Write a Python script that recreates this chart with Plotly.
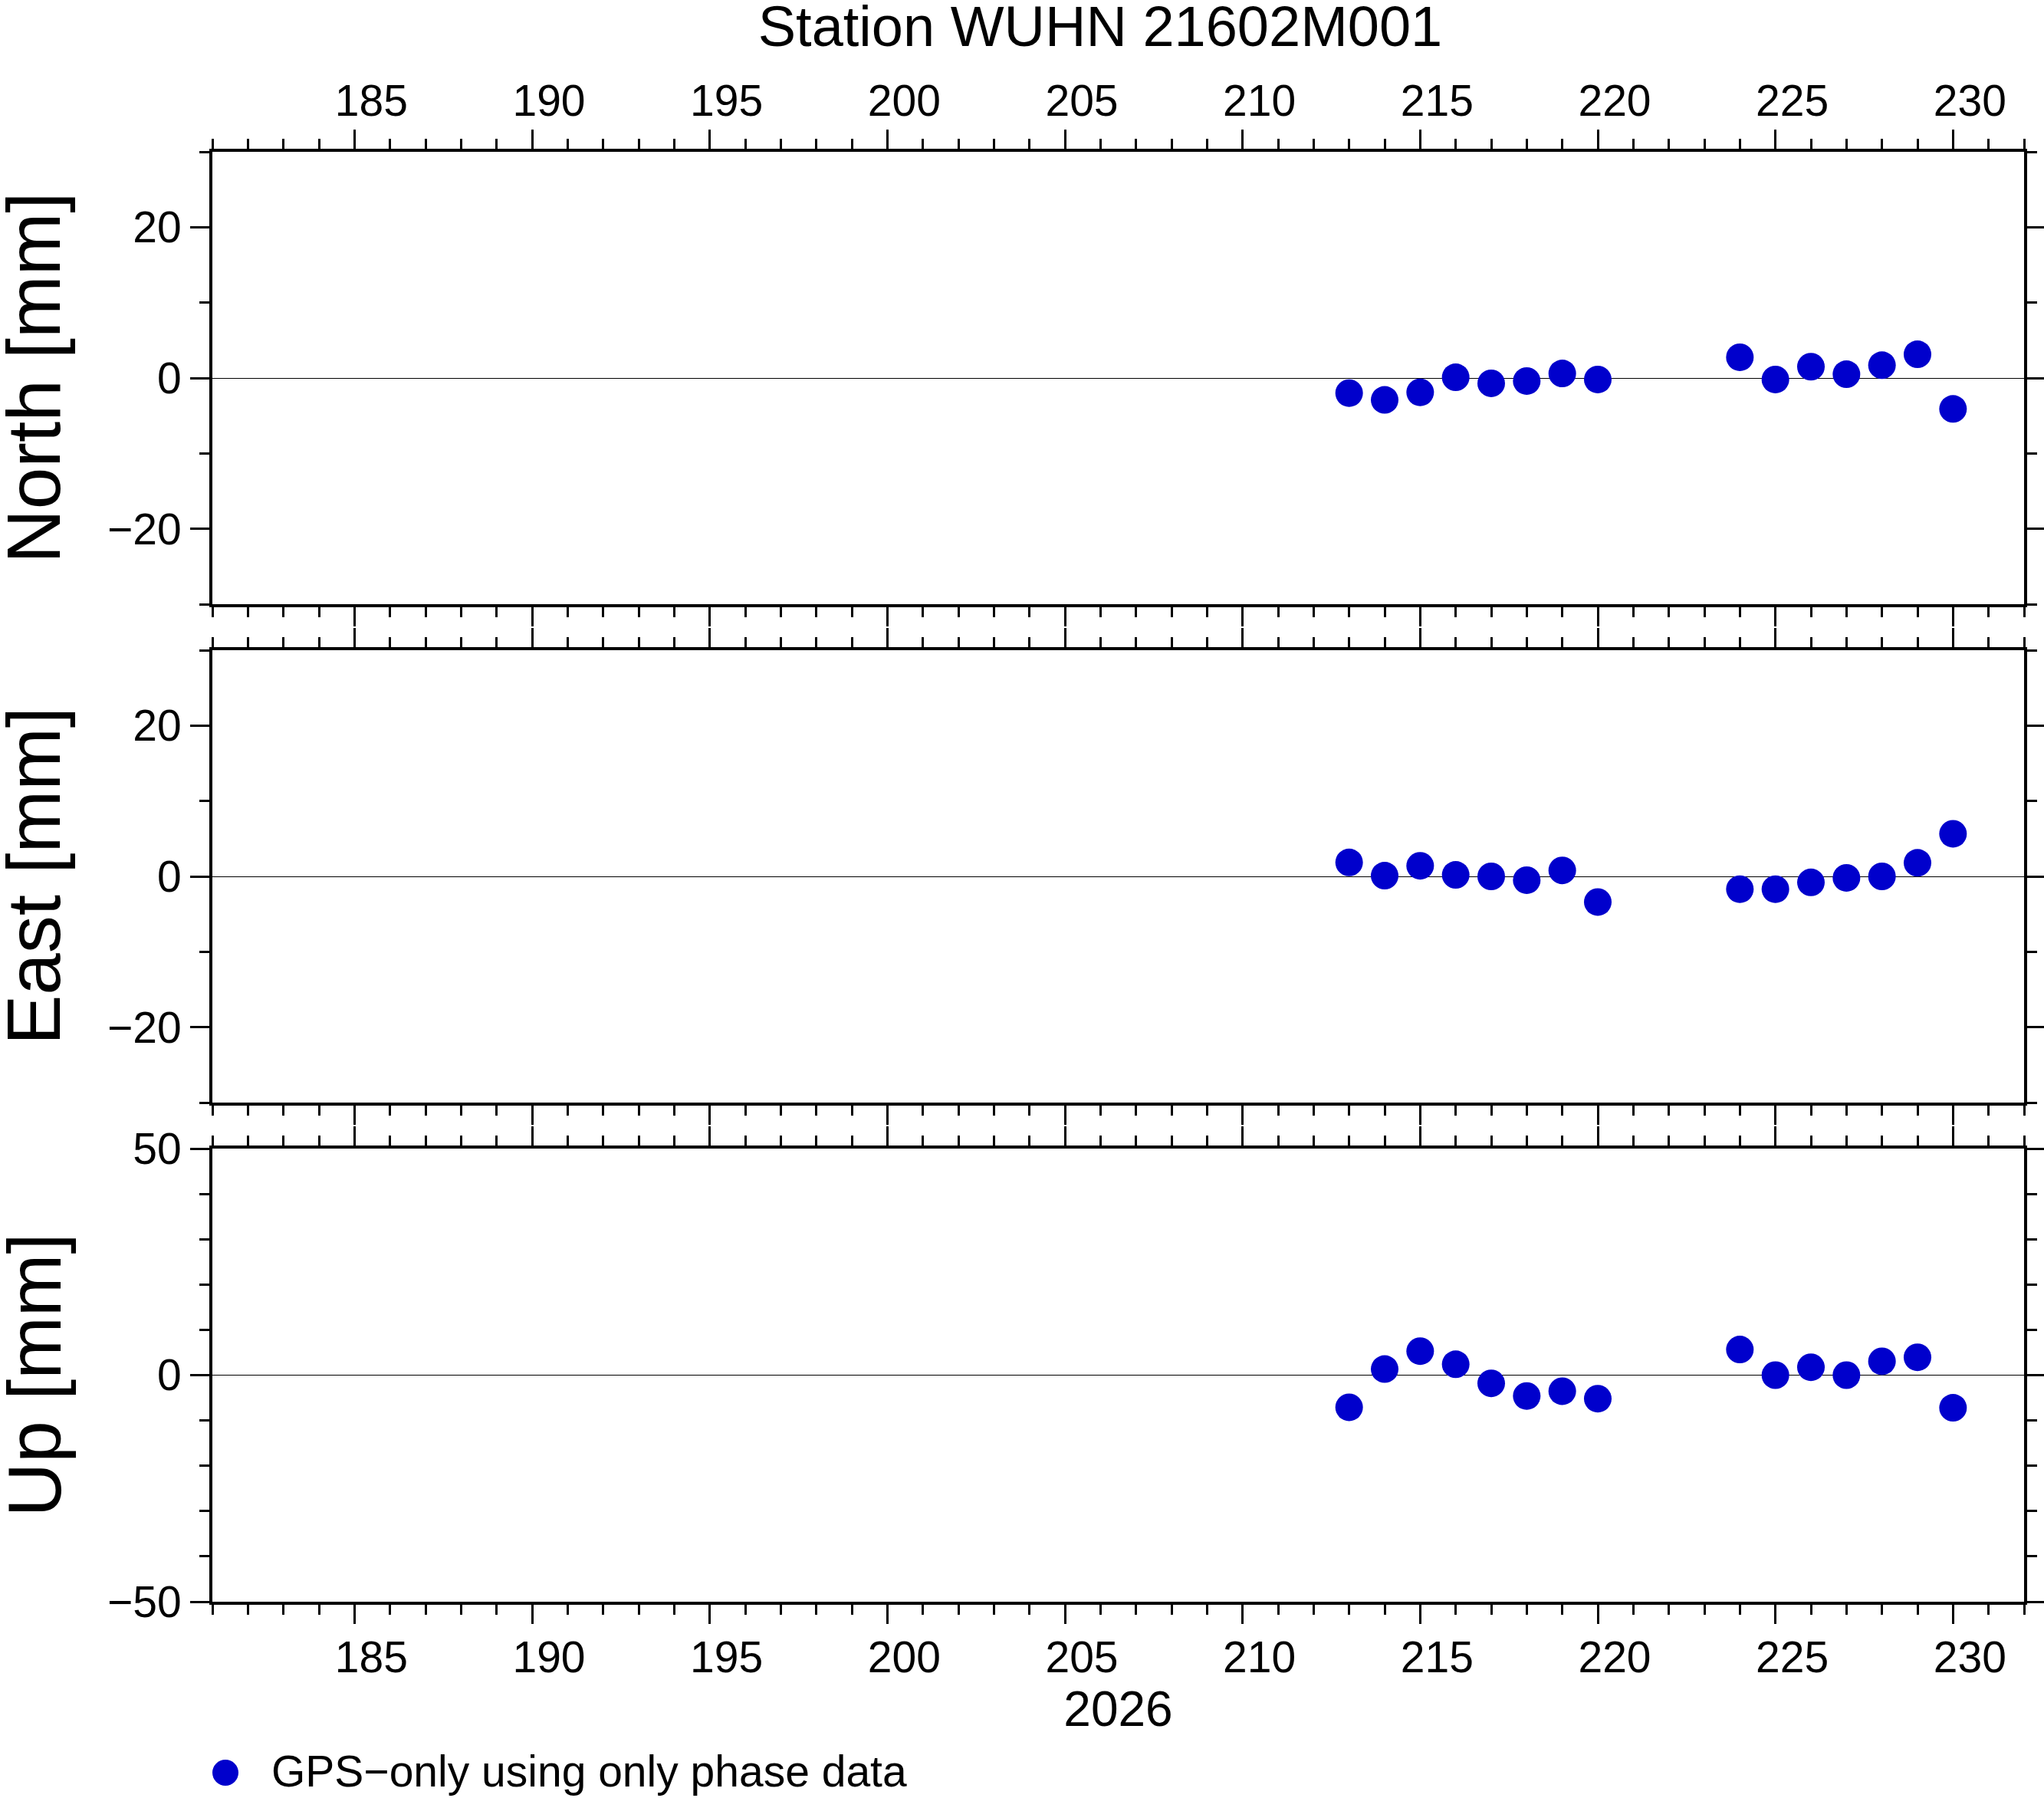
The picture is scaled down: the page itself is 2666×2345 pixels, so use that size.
import plotly.graph_objects as go

# ---- data ----
doy = [213, 214, 215, 216, 217, 218, 219, 220, 224, 225, 226, 227, 228, 229, 230]
north = [-2.0, -2.9, -1.9, 0.1, -0.7, -0.4, 0.6, -0.2, 2.75, -0.2, 1.5, 0.5, 1.7, 3.15, -4.1]
east = [1.85, 0.1, 1.4, 0.2, 0.0, -0.5, 0.8, -3.4, -1.7, -1.7, -0.8, -0.2, 0.0, 1.8, 5.65]
up = [-7.1, 1.35, 5.3, 2.4, -1.8, -4.6, -3.55, -5.2, 5.65, 0.0, 1.75, 0.0, 3.05, 3.95, -7.2]

panel_titles = ["North [mm]", "East [mm]", "Up [mm]"]
y_ranges = [[-30, 30], [-30, 30], [-50, 50]]
y_dticks = [20, 20, 50]
x_range = [181, 232]
year_label = "2026"
title_text = "Station WUHN 21602M001"
legend_text = "GPS\u2212only using only phase data"

COLOR = "rgb(0,0,204)"
FONT = "Liberation Sans, Arial, Helvetica, sans-serif"
W, H = 2666, 2345
ML, MR, MT, MB = 277, 26, 198, 256
PW, PH = W - ML - MR, H - MT - MB

fig = go.Figure()
series = [north, east, up]
for i, vals in enumerate(series):
    fig.add_trace(go.Scatter(
        x=doy, y=vals, mode="markers",
        marker=dict(size=36, color=COLOR, line=dict(width=0)),
        xaxis="x" if i == 0 else f"x{i+1}",
        yaxis="y" if i == 0 else f"y{i+1}",
        showlegend=False, name=legend_text,
    ))

# panel pixel extents (from top of plot area)
panels = [(0, 590), (650, 1240), (1300, 1891)]
domains = [[1 - b / PH, 1 - t / PH] for t, b in panels]

tickfont = dict(family=FONT, size=57, color="black")
for i in range(3):
    xa = dict(
        range=x_range, domain=[0, 1], anchor="y" if i == 0 else f"y{i+1}",
        tickmode="linear", tick0=185, dtick=5,
        ticks="outside", ticklen=25, tickwidth=3, tickcolor="black",
        minor=dict(ticks="outside", ticklen=13, tickwidth=3, dtick=1, tick0=181,
                   tickcolor="black", showgrid=False),
        showline=True, linewidth=4, linecolor="black", mirror="ticks",
        showgrid=False, zeroline=False, tickfont=tickfont,
        showticklabels=(i != 1), ticklabelstandoff=-5, ticklabelshift=22,
        side="top" if i == 0 else "bottom",
    )
    if i == 2:
        xa["title"] = dict(text=year_label, font=dict(family=FONT, size=64, color="black"), standoff=10)
    ya = dict(
        range=y_ranges[i], domain=domains[i], anchor="x" if i == 0 else f"x{i+1}",
        tickmode="linear", tick0=0, dtick=y_dticks[i],
        ticks="outside", ticklen=25, tickwidth=3, tickcolor="black",
        minor=dict(ticks="outside", ticklen=13, tickwidth=3, dtick=10,
                   tickcolor="black", showgrid=False),
        showline=True, linewidth=4, linecolor="black", mirror="ticks",
        showgrid=False, zeroline=True, zerolinecolor="black", zerolinewidth=1.2,
        tickfont=tickfont,
    )
    if i > 0:
        xa["matches"] = "x"
    fig.update_layout(**{("xaxis" if i == 0 else f"xaxis{i+1}"): xa,
                         ("yaxis" if i == 0 else f"yaxis{i+1}"): ya})
    # y-axis titles
    fig.add_annotation(
        text=panel_titles[i], textangle=-90, showarrow=False,
        xref="paper", yref="paper",
        x=(44 - ML) / PW, y=sum(domains[i]) / 2,
        xanchor="center", yanchor="middle",
        font=dict(family=FONT, size=98, color="black"),
    )

# legend (drawn as a symbol + label below the plot)
leg_y = -(2310 - (H - MB)) / PH
fig.add_shape(type="circle", xref="paper", yref="paper",
              x0=(294 - 17 - ML) / PW, x1=(294 + 17 - ML) / PW,
              y0=-(2312 + 17 - (H - MB)) / PH, y1=-(2312 - 17 - (H - MB)) / PH,
              fillcolor=COLOR, line=dict(width=0))
fig.add_annotation(text=legend_text, showarrow=False, xref="paper", yref="paper",
                   x=(352 - ML) / PW, y=leg_y, xanchor="left", yanchor="middle",
                   font=dict(family=FONT, size=57, color="black"))

fig.update_layout(
    width=W, height=H,
    margin=dict(l=ML, r=MR, t=MT, b=MB, autoexpand=False),
    paper_bgcolor="white", plot_bgcolor="white",
    showlegend=False,
    title=dict(text=title_text, x=1435 / W, xanchor="center", xref="container",
               y=1 - 34 / H, yanchor="middle", yref="container",
               font=dict(family=FONT, size=74, color="black")),
)

fig.write_html("out.html", config={"displayModeBar": False},
               post_script="document.body.style.margin='0';document.body.style.overflow='hidden';")
